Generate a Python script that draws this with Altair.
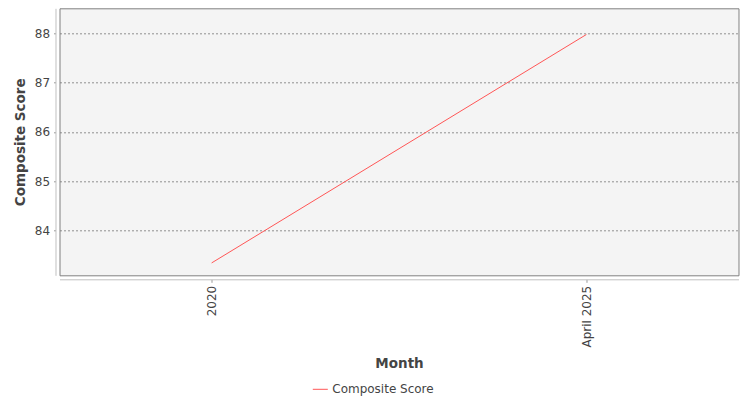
import altair as alt
import pandas as pd

months = ["2020", "April 2025"]
scores = [83.35, 87.97]
series = ["Composite Score", "Composite Score"]

df = pd.DataFrame({"Month": months, "Composite Score": scores, "series": series})

FONT = "DejaVu Sans"

chart = alt.Chart(df).mark_line(strokeWidth=1).encode(
    x=alt.X("Month:N", sort=months,
            scale=alt.Scale(type="point", padding=0.406),
            axis=alt.Axis(title="Month", labelAngle=-90, labelFontSize=12,
                          labelColor="#444444", labelFont=FONT,
                          titleFont=FONT, titleFontSize=13.5, titleFontWeight="bold",
                          titleColor="#444444", titlePadding=9,
                          domainColor="#c0c0c0", tickColor="#999999", tickSize=3,
                          labelPadding=3, offset=4, grid=False)),
    y=alt.Y("Composite Score:Q",
            scale=alt.Scale(domain=[83.1, 88.5], nice=False, zero=False),
            axis=alt.Axis(title="Composite Score", values=[84, 85, 86, 87, 88],
                          labelFontSize=12, labelColor="#444444", labelFont=FONT,
                          titleFont=FONT, titleFontSize=13.5, titleFontWeight="bold",
                          titleColor="#444444", titlePadding=7,
                          domainColor="#c0c0c0", tickColor="#999999", tickSize=2,
                          labelPadding=4, offset=4,
                          grid=True, gridColor="#777777", gridDash=[2, 2],
                          gridWidth=0.8)),
    color=alt.Color("series:N",
                    scale=alt.Scale(range=["#ff5555"]),
                    legend=alt.Legend(title=None, orient="none", legendX=252.8,
                                      legendY=373, symbolType="stroke",
                                      symbolSize=225, symbolStrokeWidth=1,
                                      labelFontSize=12, labelFont=FONT,
                                      labelColor="#444444", padding=0,
                                      labelOffset=4)),
).properties(
    width=679, height=267,
    autosize=alt.AutoSizeParams(type="none"),
    padding={"left": 51.5, "top": 0.3, "right": 3, "bottom": 122},
).configure_view(
    fill="#f4f4f4", stroke="#808080", strokeWidth=1
)

chart.save("out.html", embed_options={"renderer": "svg", "actions": False})
